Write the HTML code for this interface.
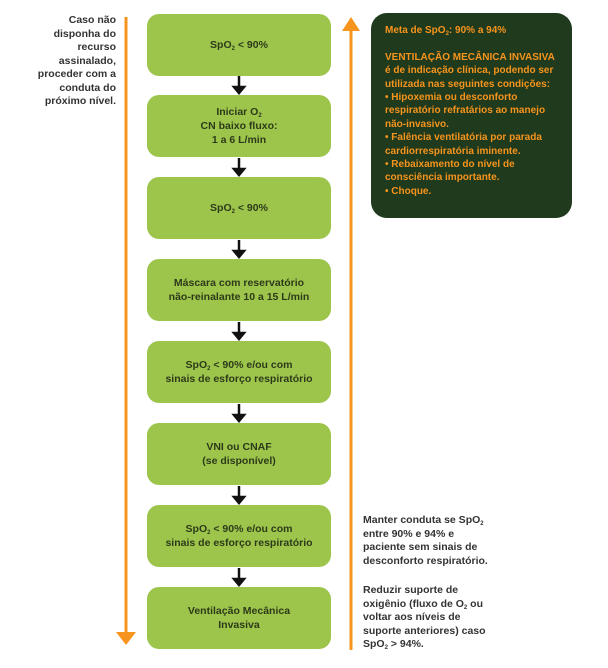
<!DOCTYPE html>
<html><head><meta charset="utf-8"><style>
body{margin:0;width:608px;height:668px;background:#fff;position:relative;font-family:"Liberation Sans",sans-serif;overflow:hidden}
.b{position:absolute;left:147px;width:184px;height:62px;background:#9dc54c;border-radius:12px;display:flex;align-items:center;justify-content:center;text-align:center;font-size:10.5px;font-weight:bold;color:#2d3a1a;line-height:14px}
sub{font-size:6px;vertical-align:-2px;line-height:0}
.t{position:absolute;font-size:10.5px;font-weight:bold;line-height:13.5px;color:#333}
</style></head><body>
<svg width="608" height="668" style="position:absolute;left:0;top:0">
<g stroke="#f7941d" stroke-width="3" fill="#f7941d">
<line x1="126" y1="17" x2="126" y2="636"/>
<polygon points="116,632 126,645 136,632" stroke="none"/>
<line x1="351" y1="26" x2="351" y2="650"/>
<polygon points="342,31 351,17 360,31" stroke="none"/>
</g>
<g stroke="#111" stroke-width="2.5" fill="#111">
<line x1="239" y1="76" x2="239" y2="89"/><polygon points="234,87 244,87 239,93" />
<line x1="239" y1="158" x2="239" y2="171"/><polygon points="234,169 244,169 239,175" />
<line x1="239" y1="240" x2="239" y2="253"/><polygon points="234,251 244,251 239,257" />
<line x1="239" y1="322" x2="239" y2="335"/><polygon points="234,333 244,333 239,339" />
<line x1="239" y1="404" x2="239" y2="417"/><polygon points="234,415 244,415 239,421" />
<line x1="239" y1="486" x2="239" y2="499"/><polygon points="234,497 244,497 239,503" />
<line x1="239" y1="568" x2="239" y2="581"/><polygon points="234,579 244,579 239,585" />
</g>
</svg>
<div class="t" style="left:4px;top:14px;text-align:right;width:112px">Caso não<br>disponha do<br>recurso<br>assinalado,<br>proceder com a<br>conduta do<br>próximo nível.</div>
<div class="b" style="top:14px"><span>SpO<sub>2</sub> &lt; 90%</span></div>
<div class="b" style="top:95px"><span>Iniciar O<sub>2</sub><br>CN baixo fluxo:<br>1 a 6 L/min</span></div>
<div class="b" style="top:177px"><span>SpO<sub>2</sub> &lt; 90%</span></div>
<div class="b" style="top:259px"><span>Máscara com reservatório<br>não-reinalante 10 a 15 L/min</span></div>
<div class="b" style="top:341px"><span>SpO<sub>2</sub> &lt; 90% e/ou com<br>sinais de esforço respiratório</span></div>
<div class="b" style="top:423px"><span>VNI ou CNAF<br>(se disponível)</span></div>
<div class="b" style="top:505px"><span>SpO<sub>2</sub> &lt; 90% e/ou com<br>sinais de esforço respiratório</span></div>
<div class="b" style="top:587px"><span>Ventilação Mecânica<br>Invasiva</span></div>
<div style="position:absolute;left:371px;top:13px;width:201px;height:205px;background:#1f3a1c;border-radius:16px;box-sizing:border-box;padding:11px 6px 0 14px;color:#f7941d;font-size:10px;font-weight:bold;line-height:13.4px">
Meta de SpO<sub>2</sub>: 90% a 94%<br><br>
VENTILAÇÃO MECÂNICA INVASIVA<br>é de indicação clínica, podendo ser utilizada nas seguintes condições:<br>• Hipoxemia ou desconforto respiratório refratários ao manejo não-invasivo.<br>• Falência ventilatória por parada cardiorrespiratória iminente.<br>• Rebaixamento do nível de consciência importante.<br>• Choque.</div>
<div class="t" style="left:363px;top:514px;width:140px">Manter conduta se SpO<sub>2</sub><br>entre 90% e 94% e<br>paciente sem sinais de<br>desconforto respiratório.</div>
<div class="t" style="left:363px;top:584px;width:140px">Reduzir suporte de<br>oxigênio (fluxo de O<sub>2</sub> ou<br>voltar aos níveis de<br>suporte anteriores) caso<br>SpO<sub>2</sub> &gt; 94%.</div>
</body></html>
